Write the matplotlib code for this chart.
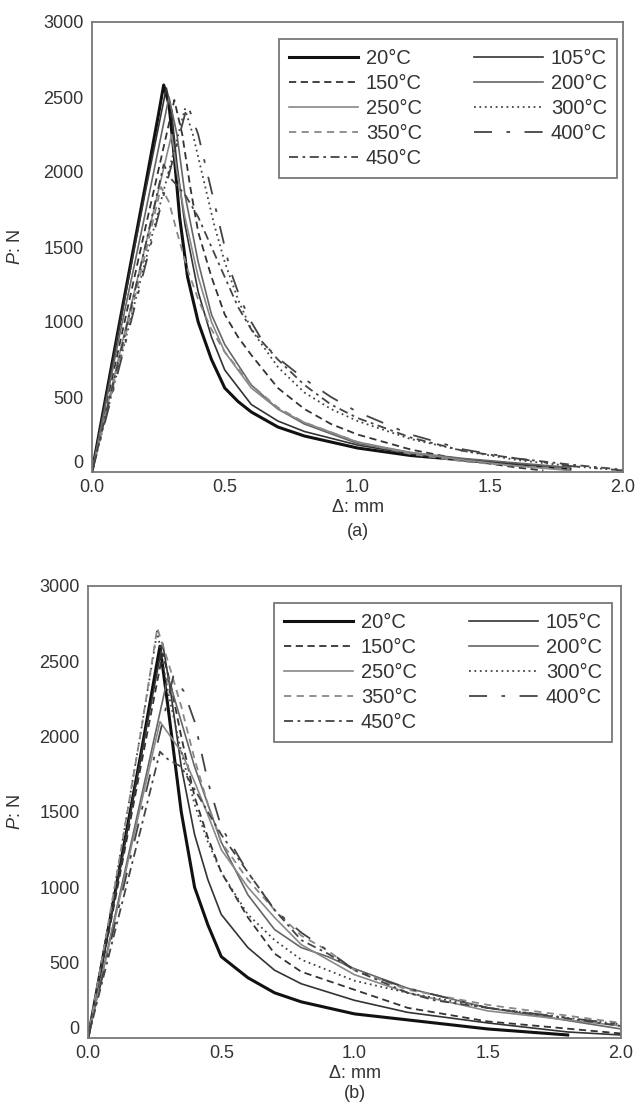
import matplotlib
matplotlib.use("Agg")
import matplotlib.pyplot as plt

plt.rcParams['font.family'] = ['Liberation Sans', 'DejaVu Sans']
plt.rcParams['mathtext.fontset'] = 'custom'
plt.rcParams['mathtext.rm'] = 'Liberation Sans'
plt.rcParams['mathtext.it'] = 'Liberation Sans:italic'

labels = ['20°C', '105°C', '150°C', '200°C', '250°C', '300°C', '350°C', '400°C', '450°C']

# ---------------- panel (a) data ----------------
a_20_x = [0, 0.05, 0.10, 0.15, 0.20, 0.25, 0.27, 0.29, 0.31, 0.33, 0.36, 0.40, 0.45, 0.50, 0.55, 0.60, 0.70, 0.80, 0.90, 1.0, 1.2, 1.4, 1.6, 1.8]
a_20_y = [0, 480, 960, 1430, 1900, 2380, 2580, 2450, 2100, 1700, 1300, 1000, 750, 560, 470, 400, 300, 240, 200, 160, 110, 80, 50, 20]
a_105_x = [0, 0.1, 0.2, 0.28, 0.30, 0.32, 0.35, 0.40, 0.45, 0.5, 0.6, 0.7, 0.8, 1.0, 1.2, 1.4, 1.6, 1.8]
a_105_y = [0, 940, 1860, 2560, 2400, 2050, 1650, 1200, 900, 680, 450, 340, 270, 180, 120, 80, 50, 30]
a_150_x = [0, 0.1, 0.2, 0.31, 0.34, 0.37, 0.40, 0.45, 0.5, 0.55, 0.6, 0.7, 0.8, 0.9, 1.0, 1.2, 1.4, 1.6, 1.7]
a_150_y = [0, 820, 1620, 2480, 2250, 1900, 1600, 1300, 1050, 900, 780, 560, 420, 320, 250, 150, 80, 30, 10]
a_200_x = [0, 0.1, 0.2, 0.29, 0.32, 0.35, 0.4, 0.45, 0.5, 0.6, 0.7, 0.8, 1.0, 1.2, 1.4, 1.6, 1.8]
a_200_y = [0, 880, 1720, 2500, 2250, 1850, 1400, 1050, 850, 580, 420, 320, 190, 130, 90, 60, 30]
a_250_x = [0, 0.1, 0.2, 0.30, 0.32, 0.35, 0.4, 0.45, 0.5, 0.6, 0.7, 0.8, 1.0, 1.2, 1.4, 1.6, 1.8]
a_250_y = [0, 760, 1500, 2250, 2000, 1700, 1300, 1000, 800, 560, 420, 330, 200, 130, 80, 40, 10]
a_300_x = [0, 0.1, 0.2, 0.3, 0.35, 0.38, 0.42, 0.46, 0.5, 0.55, 0.6, 0.7, 0.8, 0.9, 1.0, 1.2, 1.4, 1.6, 1.8, 2.0]
a_300_y = [0, 700, 1400, 2080, 2420, 2250, 1950, 1650, 1400, 1150, 950, 700, 530, 420, 340, 220, 140, 80, 40, 10]
a_350_x = [0, 0.1, 0.2, 0.26, 0.29, 0.32, 0.36, 0.40, 0.45, 0.5, 0.6, 0.7, 0.8, 1.0, 1.2, 1.4, 1.6, 1.8]
a_350_y = [0, 720, 1450, 1900, 1800, 1600, 1350, 1150, 950, 800, 580, 430, 330, 200, 120, 70, 40, 20]
a_400_x = [0, 0.1, 0.2, 0.3, 0.36, 0.40, 0.44, 0.48, 0.52, 0.56, 0.6, 0.65, 0.7, 0.8, 0.9, 1.0, 1.2, 1.4, 1.6, 1.8, 2.0]
a_400_y = [0, 680, 1370, 2050, 2450, 2250, 1950, 1650, 1350, 1150, 1000, 850, 760, 620, 500, 400, 250, 150, 90, 40, 10]
a_450_x = [0, 0.1, 0.2, 0.27, 0.30, 0.35, 0.40, 0.45, 0.5, 0.55, 0.6, 0.7, 0.8, 0.9, 1.0, 1.2, 1.4, 1.6, 1.8, 2.0]
a_450_y = [0, 740, 1500, 2050, 1950, 1850, 1700, 1500, 1300, 1100, 950, 750, 580, 450, 360, 230, 140, 90, 50, 15]

# ---------------- panel (b) data ----------------
b_20_x = [0, 0.1, 0.2, 0.27, 0.30, 0.35, 0.40, 0.45, 0.5, 0.6, 0.7, 0.8, 1.0, 1.2, 1.5, 1.8]
b_20_y = [0, 950, 1900, 2600, 2200, 1500, 1000, 750, 540, 400, 300, 240, 160, 120, 60, 20]
b_105_x = [0, 0.1, 0.2, 0.28, 0.31, 0.35, 0.40, 0.45, 0.5, 0.6, 0.7, 0.8, 1.0, 1.2, 1.5, 1.8, 2.0]
b_105_y = [0, 930, 1880, 2620, 2300, 1800, 1350, 1050, 820, 600, 450, 360, 250, 170, 100, 40, 20]
b_150_x = [0, 0.1, 0.2, 0.28, 0.31, 0.35, 0.40, 0.45, 0.5, 0.6, 0.7, 0.8, 1.0, 1.2, 1.5, 2.0]
b_150_y = [0, 900, 1820, 2550, 2350, 2000, 1600, 1330, 1100, 800, 560, 440, 320, 200, 110, 30]
b_200_x = [0, 0.1, 0.2, 0.30, 0.35, 0.40, 0.45, 0.5, 0.6, 0.7, 0.8, 0.9, 1.0, 1.2, 1.5, 2.0]
b_200_y = [0, 800, 1600, 2400, 2100, 1800, 1550, 1300, 950, 720, 600, 540, 460, 330, 200, 60]
b_250_x = [0, 0.1, 0.2, 0.27, 0.35, 0.40, 0.45, 0.5, 0.6, 0.7, 0.8, 1.0, 1.2, 1.5, 2.0]
b_250_y = [0, 780, 1560, 2100, 1900, 1700, 1480, 1250, 1000, 800, 620, 420, 300, 180, 80]
b_300_x = [0, 0.1, 0.2, 0.26, 0.30, 0.35, 0.40, 0.45, 0.5, 0.6, 0.7, 0.8, 1.0, 1.2, 1.5, 2.0]
b_300_y = [0, 1000, 2050, 2700, 2300, 1900, 1550, 1300, 1100, 820, 650, 520, 380, 300, 200, 90]
b_350_x = [0, 0.1, 0.2, 0.26, 0.30, 0.35, 0.40, 0.45, 0.5, 0.6, 0.7, 0.8, 0.9, 1.0, 1.2, 1.5, 2.0]
b_350_y = [0, 1000, 2050, 2720, 2500, 2200, 1850, 1550, 1300, 1050, 850, 680, 580, 450, 320, 220, 100]
b_400_x = [0, 0.1, 0.2, 0.32, 0.36, 0.40, 0.45, 0.5, 0.6, 0.7, 0.8, 0.9, 1.0, 1.2, 1.5, 2.0]
b_400_y = [0, 750, 1500, 2400, 2300, 2100, 1700, 1400, 1100, 850, 700, 580, 450, 330, 200, 90]
b_450_x = [0, 0.1, 0.2, 0.27, 0.30, 0.35, 0.40, 0.45, 0.5, 0.6, 0.7, 0.8, 0.9, 1.0, 1.2, 1.3, 1.5, 1.8, 2.0]
b_450_y = [0, 700, 1400, 1900, 1850, 1800, 1650, 1500, 1350, 1100, 850, 650, 560, 450, 300, 250, 200, 130, 80]

panel_a = [(a_20_x, a_20_y), (a_105_x, a_105_y), (a_150_x, a_150_y), (a_200_x, a_200_y),
           (a_250_x, a_250_y), (a_300_x, a_300_y), (a_350_x, a_350_y), (a_400_x, a_400_y),
           (a_450_x, a_450_y)]
panel_b = [(b_20_x, b_20_y), (b_105_x, b_105_y), (b_150_x, b_150_y), (b_200_x, b_200_y),
           (b_250_x, b_250_y), (b_300_x, b_300_y), (b_350_x, b_350_y), (b_400_x, b_400_y),
           (b_450_x, b_450_y)]

x_ticks = [0.0, 0.5, 1.0, 1.5, 2.0]
y_ticks = [0, 500, 1000, 1500, 2000, 2500, 3000]

styles = [
    dict(color='#111111', lw=2.2, ls='-'),
    dict(color='#333333', lw=1.2, ls='-'),
    dict(color='#333333', lw=1.3, ls=(0, (4, 2.5))),
    dict(color='#666666', lw=1.2, ls='-'),
    dict(color='#888888', lw=1.2, ls='-'),
    dict(color='#444444', lw=1.3, ls=(0, (1, 2))),
    dict(color='#888888', lw=1.3, ls=(0, (4, 3))),
    dict(color='#444444', lw=1.3, ls=(0, (10, 8, 2, 8))),
    dict(color='#444444', lw=1.3, ls=(0, (5, 2.5, 1.5, 2.5))),
]

W, H = 639, 1104
fig = plt.figure(figsize=(W / 100, H / 100), dpi=100)
TXT = '#333333'

def draw(left, right, top, bottom, data, tag, tag_y, leg_right, leg_top):
    ax = fig.add_axes([left / W, 1 - bottom / H, (right - left) / W, (bottom - top) / H])
    handles = []
    for (xs, ys), st, lab in zip(data, styles, labels):
        h, = ax.plot(xs, ys, label=lab, **st)
        handles.append(h)
    ax.set_xlim(0, 2.0)
    ax.set_ylim(0, 3000)
    ax.set_xticks(x_ticks)
    ax.set_xticklabels([f'{v:.1f}' for v in x_ticks])
    ax.set_yticks(y_ticks)
    ax.tick_params(direction='in', length=0, labelsize=13, colors=TXT)
    ax.tick_params(axis='y', pad=6)
    ax.tick_params(axis='x', pad=5)
    ax.get_yticklabels()[0].set_va('bottom')
    for s in ax.spines.values():
        s.set_color('#777777')
        s.set_linewidth(1.3)
    ax.set_ylabel(r'$\mathit{P}$: N', fontsize=13, color=TXT)
    ax.yaxis.set_label_coords((24 - left) / (right - left), 0.5)
    ax.set_xlabel(r'$\mathit{\Delta}$: mm', fontsize=13, color=TXT, labelpad=2)
    fig.text(((left + right) / 2) / W, 1 - tag_y / H, tag, fontsize=13, color=TXT,
             ha='center', va='center')
    order = [0, 2, 4, 6, 8, 1, 3, 5, 7]
    leg = ax.legend([handles[i] for i in order], [labels[i] for i in order],
                    ncol=2, loc='upper right',
                    bbox_to_anchor=((leg_right - left) / (right - left),
                                    1 - (leg_top - top) / (bottom - top)),
                    frameon=True, fancybox=False, edgecolor='#555555',
                    fontsize=14.5, handlelength=3.4, handletextpad=0.4,
                    columnspacing=2.6, labelspacing=0.3, borderpad=0.5,
                    borderaxespad=0.0)
    leg.get_frame().set_linewidth(1.3)
    for t in leg.get_texts():
        t.set_color(TXT)
    return ax

draw(92, 623, 22, 472, panel_a, '(a)', 532, 617, 39)
draw(88, 621, 586, 1038, panel_b, '(b)', 1093, 612, 603)

fig.savefig('out.png', dpi=100)
